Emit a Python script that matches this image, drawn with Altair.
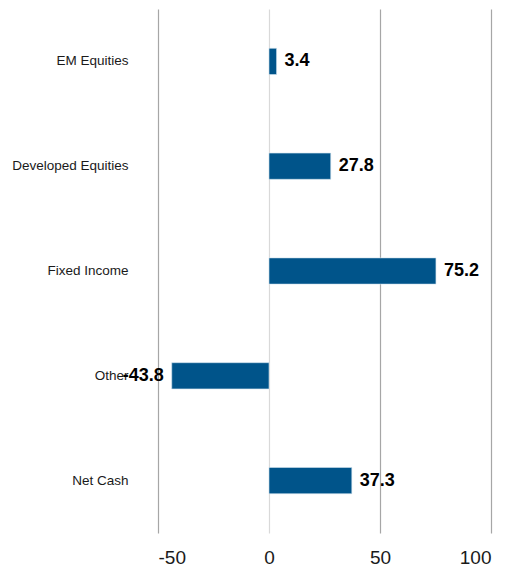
import altair as alt
import pandas as pd

categories = ["EM Equities", "Developed Equities", "Fixed Income", "Other", "Net Cash"]
values = [3.4, 27.8, 75.2, -43.8, 37.3]
x_ticks = [-50, 0, 50, 100]

df = pd.DataFrame({"cat": categories, "val": values})
df["lab"] = df["val"].map(lambda v: f"{v:.1f}")

y_enc = alt.Y("cat:N", sort=categories, title=None,
              scale=alt.Scale(paddingInner=0.75, paddingOuter=0.375),
              axis=alt.Axis(domain=False, ticks=False, grid=False, labelFont="Liberation Sans",
                            labelFontSize=13.5, labelColor="#1a1a1a", labelPadding=30))
x_enc = alt.X("val:Q", title=None,
              scale=alt.Scale(domain=[-50, 100], nice=False, zero=False),
              axis=alt.Axis(values=x_ticks, domain=False, ticks=False, grid=True,
                            labelExpr="'' + datum.value",
                            gridColor={"condition": {"test": "datum.value === 0", "value": "#d9d9d9"}, "value": "#a6a6a6"},
                            gridWidth=1.2,
                            labelFont="Liberation Sans", labelFontSize=19,
                            labelColor="#1a1a1a", labelPadding=15))

bars = alt.Chart(df).mark_bar(color="#00548A", stroke="#cfe0ec", strokeWidth=0.6).encode(
    y=y_enc, x=x_enc, x2=alt.datum(0))

pos = alt.Chart(df).transform_filter("datum.val >= 0").mark_text(
    align="left", dx=8, font="Liberation Sans", fontSize=18,
    fontWeight="bold", color="#000000", baseline="middle").encode(
    y=alt.Y("cat:N", sort=categories), x="val:Q", text="lab:N")
neg = alt.Chart(df).transform_filter("datum.val < 0").mark_text(
    align="right", dx=-8, font="Liberation Sans", fontSize=18,
    fontWeight="bold", color="#000000", baseline="middle").encode(
    y=alt.Y("cat:N", sort=categories), x="val:Q", text="lab:N")

chart = alt.layer(bars, pos, neg).properties(
    width=333, height=524,
    padding={"left": 3, "top": 1, "right": 5, "bottom": 5},
).configure_view(stroke=None)

chart.save("out.html", embed_options={"renderer": "svg", "actions": False})
